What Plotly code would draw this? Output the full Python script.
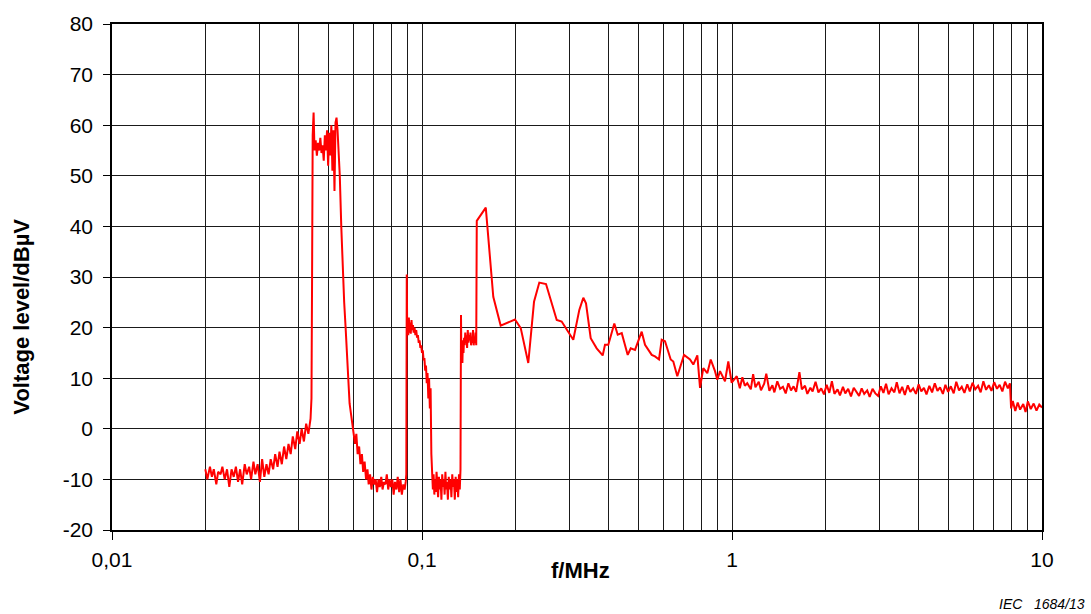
import plotly.graph_objects as go

# ---- data ----
freq_low = [0.0200, 0.0203, 0.0207, 0.0210, 0.0213, 0.0217, 0.0220, 0.0224, 0.0227, 0.0231,
            0.0235, 0.0239, 0.0243, 0.0247, 0.0251, 0.0255, 0.0259, 0.0263, 0.0268, 0.0272,
            0.0277, 0.0281, 0.0286, 0.0290, 0.0295, 0.0300, 0.0305, 0.0310, 0.0315, 0.0320,
            0.0325, 0.0331, 0.0336, 0.0342, 0.0347, 0.0353, 0.0359, 0.0365, 0.0371, 0.0377,
            0.0383, 0.0390, 0.0396, 0.0403, 0.0409, 0.0416, 0.0423, 0.0430, 0.0437]
level_low = [-8, -10, -7.5, -9.5, -8, -11, -8.5, -9, -7.5, -10,
             -8, -11.5, -8, -9.5, -7.5, -10.5, -8, -11, -7, -9,
             -7.5, -10, -6.5, -9, -7, -10.5, -6, -9.5, -7, -9,
             -6, -8, -5, -7.5, -4.5, -7, -3.5, -6, -3, -5,
             -1.5, -4, -0.5, -3, 0, -2.5, 1, -1, 2]

freq_peak1 = [0.0440, 0.0442, 0.0444, 0.0447, 0.0450, 0.0454, 0.0458, 0.0462, 0.0466, 0.0470,
              0.0474, 0.0478, 0.0482, 0.0486, 0.0490, 0.0494, 0.0498, 0.0502, 0.0506, 0.0510,
              0.0514, 0.0518, 0.0522, 0.0526, 0.0530, 0.0534, 0.0538, 0.0543, 0.0549, 0.0555,
              0.0561, 0.0567, 0.0573, 0.0578, 0.0584, 0.0590, 0.0596, 0.0602, 0.0608, 0.0614,
              0.0620, 0.0627, 0.0633, 0.0640, 0.0646, 0.0653, 0.0660, 0.0667, 0.0673, 0.0680,
              0.0687, 0.0694, 0.0702, 0.0709, 0.0716, 0.0724, 0.0731, 0.0739, 0.0746, 0.0754,
              0.0762, 0.0770, 0.0778, 0.0786, 0.0794, 0.0802, 0.0810, 0.0818, 0.0827, 0.0835,
              0.0844, 0.0852, 0.0861, 0.0870, 0.0879, 0.0886]
level_peak1 = [6, 30, 58, 62.5, 55, 57, 54, 56.5, 55, 57.5,
               54.5, 56, 53, 58, 55, 59, 52, 58.5, 54, 60,
               51, 59, 47, 60.5, 61.5, 59, 55, 50, 40, 31,
               25, 20, 14, 9, 5, 3, 1, -1.5, -3, -1,
               -5, -3.5, -7, -5, -8.5, -6.5, -10, -8, -11, -9,
               -12, -9.5, -11, -10, -12.5, -10, -11.5, -9.5, -12, -10.5,
               -11, -9, -12, -10, -11.5, -10, -13, -10.5, -12, -9.5,
               -12.5, -10, -13, -11, -12, -10.5]

freq_mid = [0.0890, 0.0893, 0.0896, 0.0899, 0.0903, 0.0907, 0.0911, 0.0915, 0.0920, 0.0925,
            0.0930, 0.0935, 0.0940, 0.0946, 0.0952, 0.0958, 0.0964, 0.0970, 0.0976, 0.0982,
            0.0988, 0.0994, 0.1000, 0.1006, 0.1012, 0.1018, 0.1024, 0.1030, 0.1036, 0.1042,
            0.1048, 0.1054, 0.1060, 0.1066, 0.1072, 0.1078, 0.1084, 0.1090, 0.1096, 0.1102,
            0.1108, 0.1114, 0.1120, 0.1127, 0.1134, 0.1141, 0.1148, 0.1155, 0.1162, 0.1169,
            0.1176, 0.1183, 0.1190, 0.1197, 0.1204, 0.1212, 0.1220, 0.1228, 0.1236, 0.1244,
            0.1252, 0.1260, 0.1268, 0.1276, 0.1284, 0.1292, 0.1300, 0.1308, 0.1316, 0.1324,
            0.1331, 0.1336, 0.1340, 0.1345, 0.1350, 0.1355, 0.1361, 0.1367, 0.1373, 0.1379,
            0.1385, 0.1391, 0.1398, 0.1405, 0.1412, 0.1419, 0.1426, 0.1433, 0.1440, 0.1447,
            0.1454, 0.1461, 0.1468, 0.1475, 0.1482, 0.1489, 0.1496]
level_mid = [-9, 30.5, 19, 21.5, 18.5, 22, 19, 21, 18.8, 21.5,
             19.5, 20.5, 19, 20, 18.5, 19.5, 18, 18.5, 17, 17.5,
             16, 16.5, 15, 15.5, 13.5, 14, 11.5, 12.5, 9, 11,
             6, 10, 4, 8, -5, -10, -12, -9, -13, -10,
             -12.5, -8.5, -11, -13.5, -9.5, -12, -10, -14, -9, -11.5,
             -10, -13, -8.5, -12, -10.5, -14, -9.5, -12, -10, -13.5,
             -9, -11.5, -10, -14, -9.5, -12.5, -10, -13.5, -9, -12,
             -8, 22.5, 14, 16, 13, 17.5, 15, 18, 16.5, 19,
             17, 18.5, 16, 19.5, 17, 18.5, 17.5, 19, 16.5, 18,
             17, 19.5, 16.5, 18, 17, 19, 16.5]

freq_high = [0.1502, 0.1606, 0.1698, 0.1794, 0.1995, 0.2082, 0.2202, 0.2298, 0.2390, 0.2512,
             0.2720, 0.2822, 0.3076, 0.3217, 0.3314, 0.3381, 0.3501, 0.3660, 0.3827, 0.3893,
             0.3990, 0.4172, 0.4279, 0.4409, 0.4609, 0.4713, 0.4866, 0.5113, 0.5241, 0.5508,
             0.5644, 0.5814, 0.5932, 0.6080, 0.6343, 0.6466, 0.6661, 0.6883, 0.7003, 0.7321,
             0.7503, 0.7730, 0.7886, 0.8080, 0.8324, 0.8537, 0.8814, 0.8966, 0.9148, 0.9493,
             0.9729, 0.9978, 1.036]
level_high = [41.1, 43.7, 26.1, 20.4, 21.6, 19.9, 13.0, 25.1, 28.9, 28.6,
              21.5, 21.2, 17.6, 23.5, 25.9, 24.8, 17.9, 15.9, 14.5, 16.6,
              16.6, 20.8, 18.6, 18.9, 14.6, 15.9, 15.6, 19.2, 16.6, 14.6,
              14.3, 13.7, 17.6, 17.3, 13.7, 13.3, 10.4, 13.3, 14.6, 13.7,
              12.7, 14.5, 8.1, 12.0, 11.0, 13.7, 11.4, 9.7, 11.4, 9.4,
              13.3, 9.1, 10.4]

freq_tail = [1.06, 1.08, 1.10, 1.12, 1.15, 1.17, 1.19, 1.22, 1.24, 1.27,
             1.29, 1.32, 1.35, 1.37, 1.40, 1.43, 1.46, 1.49, 1.52, 1.55,
             1.58, 1.61, 1.65, 1.68, 1.72, 1.75, 1.79, 1.82, 1.86, 1.90,
             1.94, 1.98, 2.02, 2.06, 2.10, 2.14, 2.19, 2.23, 2.28, 2.32,
             2.37, 2.42, 2.47, 2.52, 2.57, 2.62, 2.67, 2.73, 2.78, 2.84,
             2.90, 2.96, 3.02, 3.08, 3.14, 3.20, 3.27, 3.34, 3.40, 3.47,
             3.54, 3.61, 3.69, 3.76, 3.84, 3.92, 4.00, 4.08, 4.16, 4.24,
             4.33, 4.42, 4.51, 4.60, 4.69, 4.79, 4.88, 4.98, 5.08, 5.19,
             5.29, 5.40, 5.51, 5.62, 5.74, 5.85, 5.97, 6.09, 6.22, 6.34,
             6.47, 6.60, 6.74, 6.87, 7.01, 7.16, 7.30, 7.45, 7.60, 7.76,
             7.88, 7.95, 8.05, 8.20, 8.35, 8.50, 8.70, 8.85, 9.00, 9.20,
             9.40, 9.60, 9.80, 10.0]
level_tail = [8.0, 10.2, 8.5, 9.0, 7.8, 10.8, 8.2, 9.3, 7.6, 8.9,
              10.9, 7.5, 8.6, 7.2, 9.4, 7.9, 8.3, 7.0, 9.0, 7.6,
              8.4, 7.3, 11.2, 7.8, 8.5, 6.9, 8.1, 7.4, 9.3, 7.2,
              8.0, 6.8, 8.7, 7.1, 9.4, 6.9, 7.8, 6.6, 8.3, 7.0,
              7.9, 6.4, 8.1, 7.2, 6.5, 8.0, 6.9, 7.6, 6.3, 7.9,
              7.0, 6.5, 8.4, 7.1, 8.9, 6.8, 8.0, 7.2, 9.2, 7.0,
              8.3, 6.7, 8.6, 7.3, 8.0, 6.9, 8.8, 7.4, 8.1, 6.8,
              8.5, 7.2, 9.0, 7.5, 8.2, 6.9, 8.7, 7.3, 8.4, 7.0,
              9.3, 7.6, 8.3, 7.1, 8.8, 7.4, 9.1, 7.8, 8.5, 7.2,
              9.4, 7.7, 8.6, 7.5, 9.2, 7.9, 8.7, 7.4, 9.3, 8.0,
              9.0, 4.0, 5.5, 3.5, 5.2, 3.8, 4.9, 3.3, 5.4, 3.9,
              5.0, 3.6, 4.8, 4.2]

freq = freq_low + freq_peak1 + freq_mid + freq_high + freq_tail
level = level_low + level_peak1 + level_mid + level_high + level_tail

x_major = [0.01, 0.1, 1, 10]
x_major_text = ["0,01", "0,1", "1", "10"]
x_minor = [m * d for d in (0.01, 0.1, 1) for m in (2, 3, 4, 5, 6, 7, 8, 9)]
y_ticks = [-20, -10, 0, 10, 20, 30, 40, 50, 60, 70, 80]
y_tick_text = ["-20", "-10", "0", "10", "20", "30", "40", "50", "60", "70", "80"]

FONT = "Arial, Liberation Sans, sans-serif"
GRID = "#1a1a1a"

fig = go.Figure()
fig.add_trace(go.Scatter(x=freq, y=level, mode="lines",
                         line=dict(color="#ff0000", width=2), showlegend=False))

fig.update_layout(
    width=1091, height=614,
    margin=dict(l=112, r=49, t=20, b=84),
    paper_bgcolor="white", plot_bgcolor="white",
    font=dict(family=FONT, color="black", size=21),
    annotations=[
        dict(text="<i>IEC   1684/13</i>", x=1.0484, y=-0.147, xref="paper", yref="paper",
             xanchor="right", yanchor="middle", showarrow=False,
             font=dict(size=14, family=FONT)),
        dict(text="<b>f/MHz</b>", x=0.5035, y=-0.0804, xref="paper", yref="paper",
             xanchor="center", yanchor="middle", showarrow=False,
             font=dict(size=22, family=FONT)),
        dict(text="<b>Voltage level/dBµV</b>", x=-0.0968, y=0.4216, xref="paper", yref="paper",
             xanchor="center", yanchor="middle", textangle=-90, showarrow=False,
             font=dict(size=22, family=FONT)),
    ],
)

fig.update_xaxes(
    type="log", range=[-2, 1],
    tickmode="array", tickvals=x_major, ticktext=x_major_text,
    ticks="outside", ticklen=8, tickcolor="black", tickwidth=1,
    showgrid=True, gridcolor=GRID, gridwidth=1,
    showline=True, linecolor="black", linewidth=1.5, mirror=True,
    minor=dict(tickmode="array", tickvals=x_minor, showgrid=True, gridcolor=GRID,
               gridwidth=1, ticks=""),
    tickfont=dict(size=21, family=FONT),
    ticklabelstandoff=2,
)
fig.update_yaxes(
    range=[-20, 80], tickmode="array", tickvals=y_ticks, ticktext=y_tick_text,
    ticks="outside", ticklen=7, tickcolor="black", tickwidth=1,
    showgrid=True, gridcolor=GRID, gridwidth=1, zeroline=False,
    showline=True, linecolor="black", linewidth=1.5, mirror=True,
    tickfont=dict(size=21, family=FONT),
    ticklabelstandoff=6,
)

fig.write_html("out.html")
